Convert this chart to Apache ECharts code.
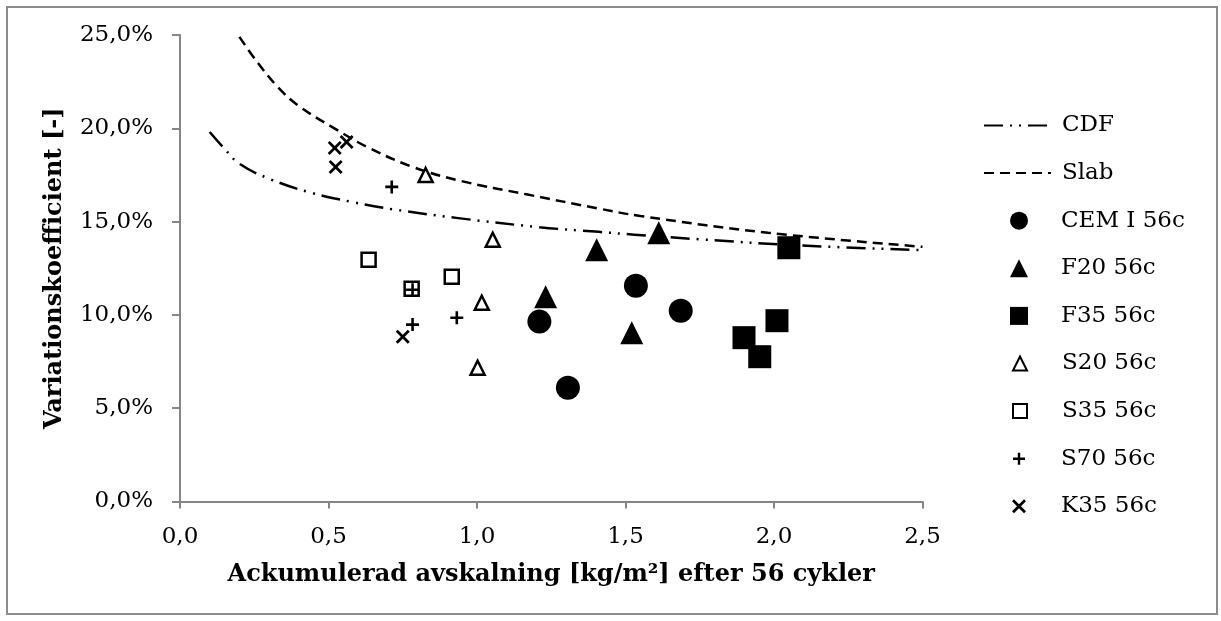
<!DOCTYPE html>
<html><head><meta charset="utf-8">
<script src="https://cdn.jsdelivr.net/npm/echarts@6/dist/echarts.min.js"></script>
<style>html,body{margin:0;padding:0;background:#fff}#c{width:1221px;height:621px}</style>
</head><body><div id="c"></div>
<script>
// ---- data ----
const xTickValues = [0.0, 0.5, 1.0, 1.5, 2.0, 2.5];
const yTickValues = [0, 5, 10, 15, 20, 25]; // percent

const cdfX = [0.1, 0.15, 0.2, 0.3, 0.44, 0.58, 0.72, 0.93, 1.21, 1.41, 1.53, 1.75, 2.09, 2.5];
const cdfY = [19.8, 18.9, 18.1, 17.3, 16.55, 16.05, 15.65, 15.2, 14.7, 14.45, 14.3, 14.05, 13.72, 13.47];

const slabX = [0.2, 0.26, 0.33, 0.4, 0.53, 0.63, 0.78, 0.94, 1.17, 1.41, 1.55, 1.98, 2.5];
const slabY = [24.9, 23.55, 22.2, 21.2, 19.9, 19.0, 17.95, 17.2, 16.45, 15.7, 15.3, 14.4, 13.65];

const cemX = [1.21, 1.535, 1.686, 1.306];
const cemY = [9.64, 11.56, 10.22, 6.10];

const f20X = [1.231, 1.403, 1.521, 1.612];
const f20Y = [10.97, 13.49, 9.05, 14.40];

const f35X = [2.050, 2.010, 1.899, 1.952];
const f35Y = [13.60, 9.69, 8.78, 7.76];

const s20X = [0.827, 1.053, 1.016, 1.002];
const s20Y = [17.50, 14.03, 10.65, 7.17];

const s35X = [0.635, 0.915, 0.780];
const s35Y = [12.96, 12.04, 11.40];

const s70X = [0.713, 0.783, 0.932, 0.783];
const s70Y = [16.86, 11.35, 9.85, 9.48];

const k35X = [0.521, 0.561, 0.524, 0.750];
const k35Y = [18.95, 19.27, 17.93, 8.83];

const seriesNames = ['CDF', 'Slab', 'CEM I 56c', 'F20 56c', 'F35 56c', 'S20 56c', 'S35 56c', 'S70 56c', 'K35 56c'];

// ---- rendering ----
const FONT = 'DejaVu Serif';
const zip = (xs, ys) => xs.map((x, i) => [x, ys[i]]);
const PLUS = 'path://M4,0 L6,0 L6,4 L10,4 L10,6 L6,6 L6,10 L4,10 L4,6 L0,6 L0,4 L4,4 Z';
const CROSS = 'path://M0,1.4 L1.4,0 L5,3.6 L8.6,0 L10,1.4 L6.4,5 L10,8.6 L8.6,10 L5,6.4 L1.4,10 L0,8.6 L3.6,5 Z';

const fmtX = v => v.toFixed(1).replace('.', ',');
const fmtY = v => v.toFixed(1).replace('.', ',') + '%';

const markerDefs = {
  'CEM I 56c': {symbol: 'circle', size: 24, leg: 18, fill: '#000', bw: 0},
  'F20 56c':   {symbol: 'triangle', size: 23, leg: 18, fill: '#000', bw: 0},
  'F35 56c':   {symbol: 'rect', size: 23, leg: 18, fill: '#000', bw: 0},
  'S20 56c':   {symbol: 'triangle', size: 14, leg: 14, fill: '#fff', bw: 2.5},
  'S35 56c':   {symbol: 'rect', size: 14, leg: 14, fill: '#fff', bw: 2.5},
  'S70 56c':   {symbol: PLUS, size: 13, leg: 12, fill: '#000', bw: 0},
  'K35 56c':   {symbol: CROSS, size: 14, leg: 14, fill: '#000', bw: 0}
};
const markerData = {
  'CEM I 56c': zip(cemX, cemY),
  'F20 56c': zip(f20X, f20Y),
  'F35 56c': zip(f35X, f35Y),
  'S20 56c': zip(s20X, s20Y),
  'S35 56c': zip(s35X, s35Y),
  'S70 56c': zip(s70X, s70Y),
  'K35 56c': zip(k35X, k35Y)
};

const series = [
  {name: 'CDF', type: 'line', data: zip(cdfX, cdfY), smooth: 0.4, symbol: 'none', z: 1,
   lineStyle: {color: '#000', width: 2.5, type: [19, 7, 2, 7, 2, 7]}, itemStyle: {color: '#000'}},
  {name: 'Slab', type: 'line', data: zip(slabX, slabY), smooth: 0.4, symbol: 'none', z: 1,
   lineStyle: {color: '#000', width: 2.5, type: [10, 6]}, itemStyle: {color: '#000'}}
];
Object.keys(markerDefs).forEach(n => {
  const d = markerDefs[n];
  series.push({name: n, type: 'scatter', data: markerData[n], symbol: d.symbol, symbolSize: d.size, z: 3,
    itemStyle: {color: d.fill, borderColor: '#000', borderWidth: d.bw, opacity: 1}});
});

const LEG_FS = 23, LEG_LH = 26;
const legendTop0 = 125.5, legendStep = 47.6;
const legends = seriesNames.map((n, i) => {
  const d = markerDefs[n];
  const cy = legendTop0 + i * legendStep;
  const base = {
    data: [n], orient: 'vertical', top: cy - LEG_LH / 2, selectedMode: false, padding: 0
  };
  if (!d) {
    return Object.assign(base, {
      left: 983, itemWidth: 67, itemHeight: 14,
      itemStyle: {color: 'rgba(0,0,0,0)', borderColor: 'rgba(0,0,0,0)', borderWidth: 0, opacity: 0},
      textStyle: {fontFamily: FONT, fontSize: LEG_FS, color: '#000', lineHeight: LEG_LH, padding: [0, 0, 0, 6]}
    });
  }
  return Object.assign(base, {
    left: 1019 - d.leg / 2, itemWidth: d.leg, itemHeight: d.leg,
    textStyle: {fontFamily: FONT, fontSize: LEG_FS, color: '#000', lineHeight: LEG_LH,
      padding: [0, 0, 0, 37 - d.leg / 2]}
  });
});

const chart = echarts.init(document.getElementById('c'), null, {renderer: 'canvas'});
chart.setOption({
  animation: false,
  backgroundColor: '#fff',
  textStyle: {fontFamily: FONT},
  grid: {left: 180, right: 298.5, top: 35, bottom: 119.5, containLabel: false},
  xAxis: {
    type: 'value', min: xTickValues[0], max: xTickValues[xTickValues.length - 1], interval: 0.5,
    name: 'Ackumulerad avskalning [kg/m²] efter 56 cykler', nameLocation: 'middle', nameGap: 61,
    nameTextStyle: {fontFamily: FONT, fontWeight: 'bold', fontSize: 24, color: '#000'},
    axisLine: {show: true, lineStyle: {color: '#868686', width: 2}},
    axisTick: {show: true, inside: false, length: 7, lineStyle: {color: '#868686', width: 2}},
    axisLabel: {fontFamily: FONT, fontSize: 23, color: '#000', margin: 24, formatter: fmtX},
    splitLine: {show: false}
  },
  yAxis: {
    type: 'value', min: yTickValues[0], max: yTickValues[yTickValues.length - 1], interval: 5,
    name: 'Variationskoefficient [-]', nameLocation: 'middle', nameGap: 113, nameRotate: 90,
    nameTextStyle: {fontFamily: FONT, fontWeight: 'bold', fontSize: 24, color: '#000'},
    axisLine: {show: true, lineStyle: {color: '#868686', width: 2}},
    axisTick: {show: true, inside: false, length: 8, lineStyle: {color: '#868686', width: 2}},
    axisLabel: {fontFamily: FONT, fontSize: 23, color: '#000', margin: 27, formatter: fmtY},
    splitLine: {show: false}
  },
  legend: legends,
  series: series,
  graphic: [{type: 'rect', silent: true, z: -10, shape: {x: 7, y: 7, width: 1210, height: 607},
    style: {fill: 'none', stroke: '#8c8c8c', lineWidth: 2}}]
});
</script>
</body></html>
